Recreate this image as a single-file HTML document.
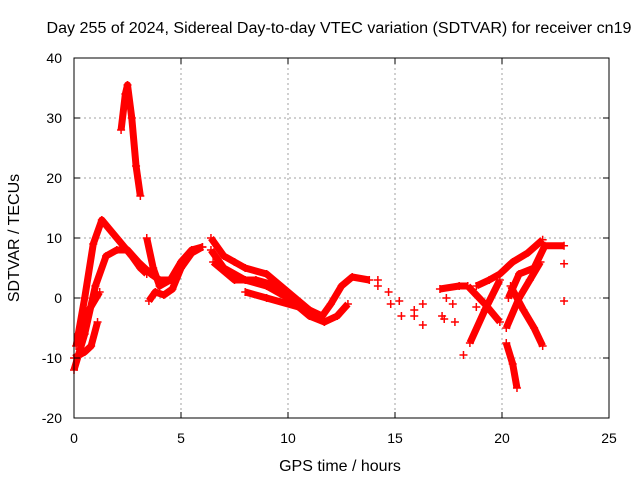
<!DOCTYPE html>
<html><head><meta charset="utf-8"><style>
body{margin:0;background:#fff}
svg text{font-family:"Liberation Sans",sans-serif;font-size:14px;fill:#000}
</style></head><body>
<svg id="chart" width="640" height="480">
<rect width="640" height="480" fill="#fff"/>
<text x="339" y="33" text-anchor="middle" textLength="585" lengthAdjust="spacingAndGlyphs" style="font-size:15.5px">Day 255 of 2024, Sidereal Day-to-day VTEC variation (SDTVAR) for receiver cn19</text>
<text x="340" y="471" text-anchor="middle" style="font-size:16px">GPS time / hours</text>
<text transform="translate(19,238) rotate(-90)" text-anchor="middle" style="font-size:16px">SDTVAR / TECUs</text>
<g id="grid"></g><g id="marks"></g>
<rect x="74" y="58" width="535" height="360" fill="none" stroke="#000" stroke-width="1"/>
<g id="ticks"></g>
</svg>
<script>
const xTicks=[0,5,10,15,20,25];
const yTicks=[-20,-10,0,10,20,30,40];
const trackA=[[0.1,-8],[0.5,0],[0.9,9],[1.3,13],[2,10],[2.7,7],[3.1,5],[3.4,4]];
const trackB=[[0,-12],[0.5,-6],[1,2],[1.5,7],[2,8],[2.5,8],[3,6],[3.6,4],[4,3],[4.5,3],[5,5],[5.5,7.5],[6,8.5]];
const trackC=[[0,-10],[0.5,-9],[0.8,-8],[1.1,-4]];
const trackC2=[[0.2,-6],[0.7,-2],[1.2,1]];
const trackD=[[2.2,28],[2.4,34],[2.5,35.5],[2.7,30],[2.9,22],[3.1,17]];
const trackE=[[3.4,10],[3.7,5],[4,2],[4.5,3],[5,6],[5.5,8],[6,8.5]];
const trackF=[[3.5,-0.5],[3.8,1],[4.2,0.5],[4.6,1.5],[5,5]];
const trackG=[[6.4,10],[7,7],[7.5,6],[8,5],[9,4],[10,1],[11,-2],[11.6,-3],[12,-1],[12.5,2],[13,3.5],[13.8,3]];
const trackH=[[6.4,8],[7,5],[8,3],[9,2],[10,0],[11,-3],[11.7,-4],[12.3,-3],[12.8,-1]];
const trackI=[[6.5,6],[7.5,3],[8.5,3],[9.5,2],[10.5,-1],[11.5,-3]];
const trackJ=[[8,1],[9,0],[10.5,-1.5]];
const trackK=[[17.1,1.5],[18,2],[18.4,2]];
const trackL=[[18.5,-7.5],[19.2,-2],[19.9,3]];
const trackM=[[18.4,2],[19.2,-1],[19.9,-4]];
const trackN=[[18.8,2],[19.4,3],[19.9,4],[20.5,6],[21.2,7.5],[21.9,9.7]];
const trackO=[[20.2,-5],[20.8,0],[21.3,3],[21.8,6]];
const trackP=[[20.4,2],[21,-2],[21.5,-5],[21.9,-8]];
const trackQ=[[20.2,-7.5],[20.5,-11],[20.7,-15]];
const trackR=[[20.3,0],[20.8,4],[21.5,5],[22,8.7],[22.9,8.7]];
const scatterT=[14.2,14.2,14.7,14.8,15.2,15.3,15.9,15.9,16.3,16.3,17.3,17.4,17.7,18.2,18.8,22.9,22.9,17.2,17.8];
const scatterV=[3,2,1,-1,-0.5,-3,-3,-2,-4.5,-1,-3.5,0,-1,-9.5,-1.5,5.7,-0.5,-3,-4];
const tracks=[trackA,trackB,trackC,trackC2,trackD,trackE,trackF,trackG,trackH,trackI,trackJ,trackK,trackL,trackM,trackN,trackO,trackP,trackQ,trackR];
const X=t=>74+t*(535/25), Y=v=>418-(v+20)*6;
const NS="http://www.w3.org/2000/svg";
const grid=document.getElementById('grid'),marks=document.getElementById('marks'),ticks=document.getElementById('ticks');
function mk(tag,attrs,parent){const e=document.createElementNS(NS,tag);for(const k in attrs)e.setAttribute(k,attrs[k]);parent.appendChild(e);return e;}
xTicks.forEach(t=>{
 if(t>0&&t<25){const g=mk('line',{x1:X(t),x2:X(t),y1:58,y2:418,stroke:'#a0a0a0','stroke-dasharray':'2,3'},grid);
 
 }
 mk('line',{x1:X(t),x2:X(t),y1:418,y2:412,stroke:'#000'},ticks);
 mk('line',{x1:X(t),x2:X(t),y1:58,y2:64,stroke:'#000'},ticks);
 const l=mk('text',{x:X(t),y:443,'text-anchor':'middle'},ticks);l.textContent=t;
 
 
});
yTicks.forEach(v=>{
 if(v>-20&&v<40){const g=mk('line',{x1:74,x2:609,y1:Y(v),y2:Y(v),stroke:'#a0a0a0','stroke-dasharray':'2,3'},grid);
 
 }
 mk('line',{x1:74,x2:80,y1:Y(v),y2:Y(v),stroke:'#000'},ticks);
 mk('line',{x1:609,x2:603,y1:Y(v),y2:Y(v),stroke:'#000'},ticks);
 const l=mk('text',{x:62,y:Y(v)+5,'text-anchor':'end'},ticks);l.textContent=v;
 
 
});
function plus(t,v){const p=mk('path',{d:`M${X(t)-4},${Y(v)}h8M${X(t)},${Y(v)-4}v8`,stroke:'#f00','stroke-width':1.5},marks);
 
 }
tracks.forEach(tr=>{
 const pl=mk('polyline',{points:tr.map(p=>X(p[0])+','+Y(p[1])).join(' '),fill:'none',stroke:'#f00','stroke-width':7,'stroke-linejoin':'round'},marks);
 
 
 tr.forEach(p=>plus(p[0],p[1]));
});
scatterT.forEach((t,i)=>plus(t,scatterV[i]));
</script>
</body></html>
